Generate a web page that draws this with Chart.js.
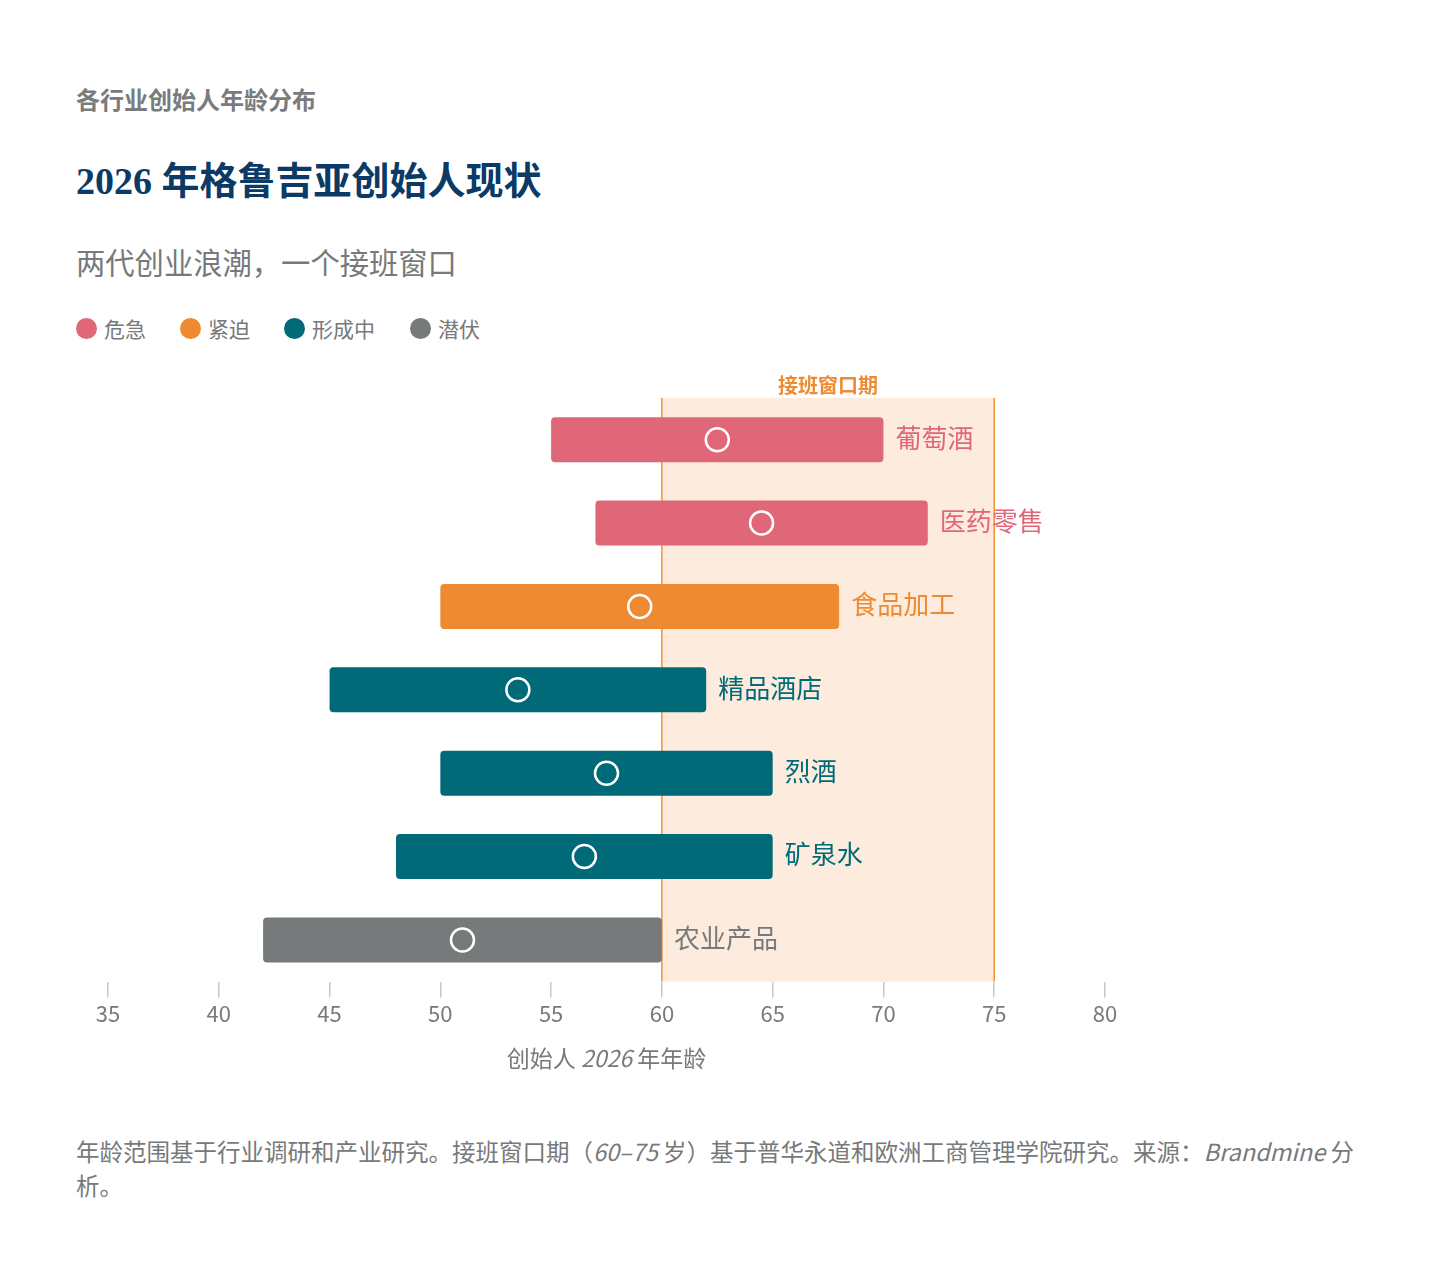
<!DOCTYPE html>
<html>
<head>
<meta charset="utf-8">
<script src="https://cdn.jsdelivr.net/npm/chart.js@4.4.1/dist/chart.umd.min.js"></script>
<style>
  html, body { margin: 0; padding: 0; background: #ffffff; }
  body { width: 1436px; height: 1286px; position: relative; overflow: hidden;
         font-family: "Noto Sans CJK SC", "Noto Sans", sans-serif; color: #77797a; }
  .abs { position: absolute; white-space: nowrap; }
  #kicker { left: 76px; top: 83px; font-size: 24px; font-weight: 700; color: #797b7c; line-height: 32px; }
  #title { left: 76px; top: 157px; font-size: 38px; font-weight: 700; color: #0b3a66; line-height: 48px;
           font-family: "Liberation Serif", "Noto Sans CJK SC", serif; }
  #subtitle { left: 76px; top: 241px; font-size: 29.3px; color: #77797a; line-height: 40px; }
  #legend { left: 76px; top: 313px; font-size: 21px; line-height: 30px; color: #77797a; }
  .li { position: absolute; top: 0; }
  .dot { position: absolute; top: 5px; width: 21px; height: 21px; border-radius: 50%; }
  #xtitle { left: 0; width: 1213px; text-align: center; top: 1041px; font-size: 23px; line-height: 32px; color: #77797a; }
  #foot { left: 76px; top: 1134px; width: 1296px; white-space: normal; font-size: 23.5px; line-height: 34px; color: #77797a; }
  i { font-style: italic; }
  #chart { position: absolute; left: 0; top: 340px; }
</style>
</head>
<body>
<div id="kicker" class="abs">各行业创始人年龄分布</div>
<div id="title" class="abs">2026 年格鲁吉亚创始人现状</div>
<div id="subtitle" class="abs">两代创业浪潮，一个接班窗口</div>
<div id="legend" class="abs"></div>
<canvas id="chart" width="1436" height="740"></canvas>
<div id="xtitle" class="abs">创始人 <i>2026</i>&nbsp;年年龄</div>
<div id="foot" class="abs">年龄范围基于行业调研和产业研究。接班窗口期（<i>60–75</i>&nbsp;岁）基于普华永道和欧洲工商管理学院研究。来源：<i>Brandmine</i>&nbsp;分析。</div>

<script>
// ---- data ----
const categories = ['葡萄酒', '医药零售', '食品加工', '精品酒店', '烈酒', '矿泉水', '农业产品'];
const ageMin     = [55, 57, 50, 45, 50, 48, 42];
const ageMax     = [70, 72, 68, 62, 65, 65, 60];
const ageMedian  = [62.5, 64.5, 59, 53.5, 57.5, 56.5, 51];
const status     = ['危急', '危急', '紧迫', '形成中', '形成中', '形成中', '潜伏'];
const statusNames = ['危急', '紧迫', '形成中', '潜伏'];
const statusColors = { '危急': '#e06777', '紧迫': '#ee8a31', '形成中': '#006a78', '潜伏': '#767a7b' };
const windowRange = [60, 75];
const windowLabel = '接班窗口期';
const xTicks = [35, 40, 45, 50, 55, 60, 65, 70, 75, 80];

// ---- legend ----
const legendPos = [0, 104, 208, 334];
const legend = document.getElementById('legend');
statusNames.forEach((s, i) => {
  const d = document.createElement('div');
  d.className = 'li';
  d.style.left = legendPos[i] + 'px';
  d.innerHTML = '<span class="dot" style="left:0;background:' + statusColors[s] + '"></span>' +
                '<span style="position:absolute;left:28px;top:0">' + s + '</span>';
  legend.appendChild(d);
});

const barColors = status.map(s => statusColors[s]);

// ---- plugins ----
const windowPlugin = {
  id: 'windowPlugin',
  beforeDatasetsDraw(chart) {
    const { ctx, chartArea, scales } = chart;
    const x0 = scales.x.getPixelForValue(windowRange[0]);
    const x1 = scales.x.getPixelForValue(windowRange[1]);
    ctx.save();
    ctx.fillStyle = '#fdebdd';
    ctx.fillRect(x0, chartArea.top, x1 - x0, chartArea.bottom - chartArea.top);
    ctx.strokeStyle = '#f0923c';
    ctx.lineWidth = 1.5;
    ctx.beginPath();
    ctx.moveTo(x0, chartArea.top); ctx.lineTo(x0, chartArea.bottom);
    ctx.moveTo(x1, chartArea.top); ctx.lineTo(x1, chartArea.bottom);
    ctx.stroke();
    ctx.fillStyle = '#ee8a31';
    ctx.font = '700 20px "Noto Sans CJK SC"';
    ctx.textAlign = 'center';
    ctx.textBaseline = 'middle';
    ctx.fillText(windowLabel, (x0 + x1) / 2, chartArea.top - 13);
    ctx.restore();
  }
};

const labelPlugin = {
  id: 'labelPlugin',
  afterDatasetsDraw(chart) {
    const { ctx } = chart;
    const meta = chart.getDatasetMeta(0);
    ctx.save();
    ctx.font = '26px "Noto Sans CJK SC"';
    ctx.textAlign = 'left';
    ctx.textBaseline = 'middle';
    meta.data.forEach((bar, i) => {
      ctx.fillStyle = barColors[i];
      ctx.fillText(categories[i], bar.x + 12, bar.y - 2);
    });
    ctx.restore();
  }
};

new Chart(document.getElementById('chart'), {
  type: 'bar',
  data: {
    labels: categories,
    datasets: [
      {
        type: 'bar',
        data: categories.map((c, i) => [ageMin[i], ageMax[i]]),
        backgroundColor: barColors,
        borderRadius: 4,
        borderSkipped: false,
        categoryPercentage: 1,
        barPercentage: 0.54,
        order: 2
      },
      {
        type: 'line',
        data: ageMedian,
        showLine: false,
        pointRadius: 11.5,
        pointHoverRadius: 11.5,
        pointBackgroundColor: 'rgba(0,0,0,0)',
        pointBorderColor: '#ffffff',
        pointBorderWidth: 2.5,
        order: 1
      }
    ]
  },
  options: {
    indexAxis: 'y',
    responsive: false,
    animation: false,
    devicePixelRatio: 1,
    layout: { padding: { left: 108, right: 331, top: 58, bottom: 50 } },
    plugins: { legend: { display: false }, tooltip: { enabled: false } },
    scales: {
      x: {
        type: 'linear',
        min: 35, max: 80,
        afterBuildTicks(scale) { scale.ticks = xTicks.map(v => ({ value: v })); },
        grid: { drawOnChartArea: false, drawTicks: true, tickLength: 16, color: '#c8c8c8', lineWidth: 1.5 },
        border: { display: false },
        ticks: { color: '#77797a', font: { family: 'Noto Sans CJK SC', size: 22 }, padding: 3 }
      },
      y: { display: false, offset: true }
    }
  },
  plugins: [windowPlugin, labelPlugin]
});
</script>
</body>
</html>
